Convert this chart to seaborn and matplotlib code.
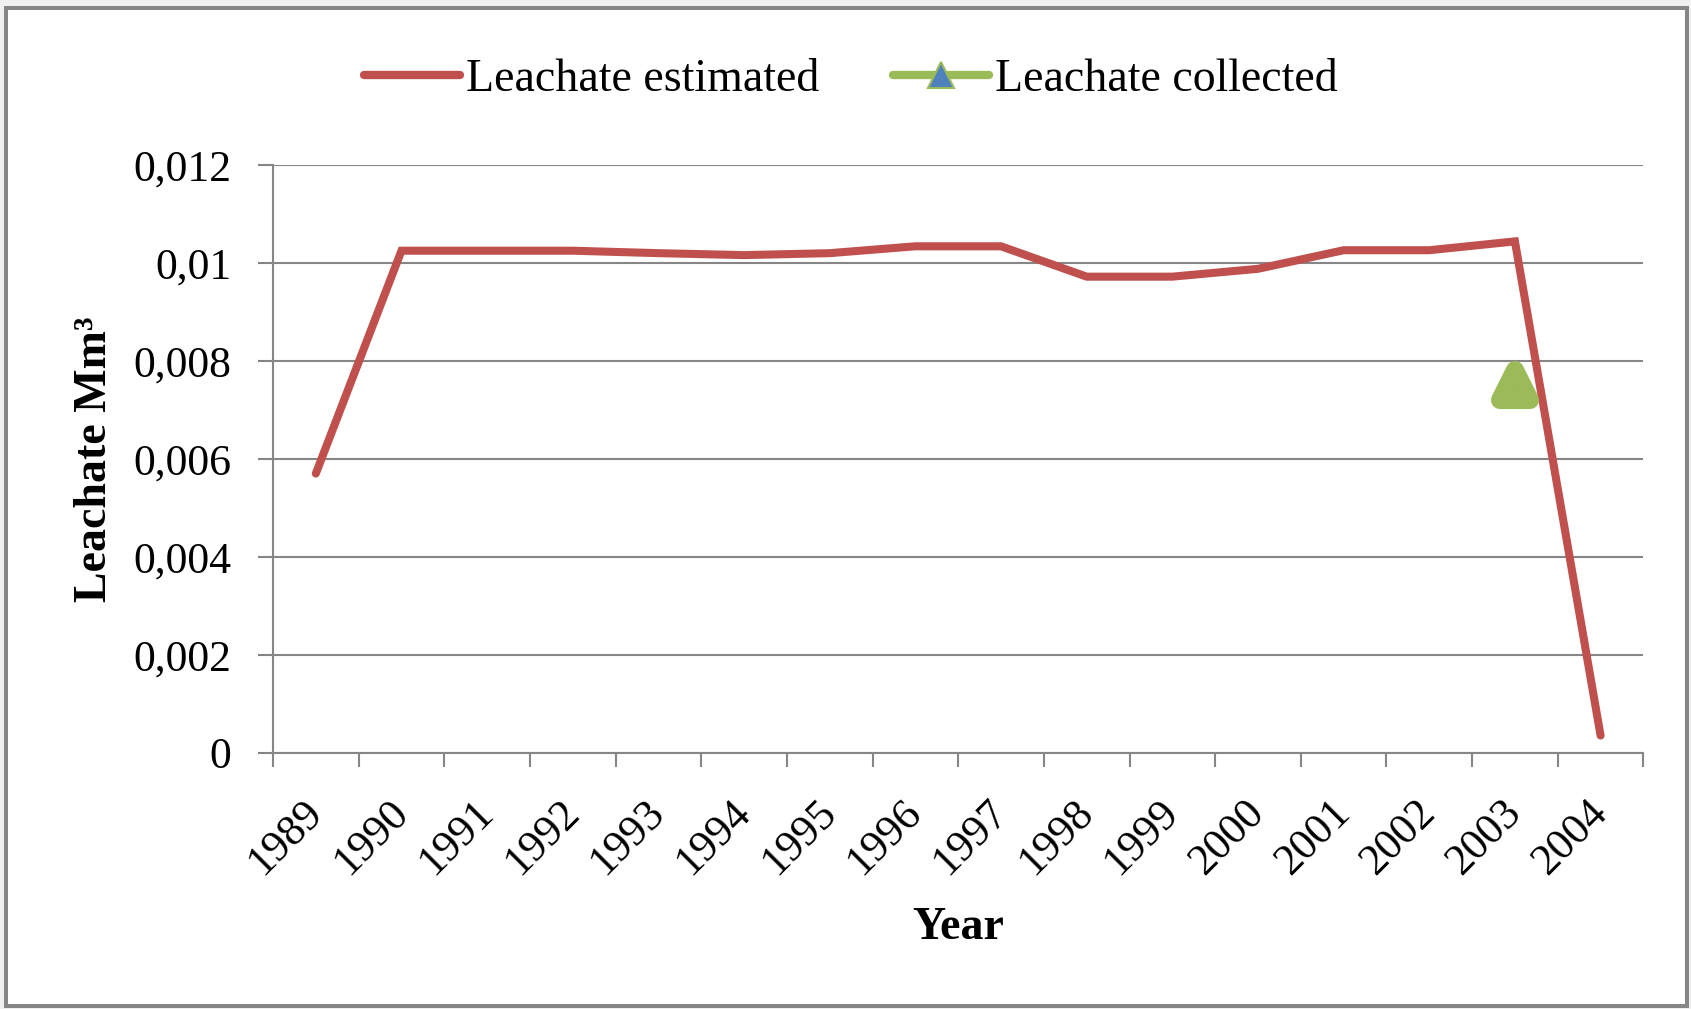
import matplotlib
matplotlib.use("Agg")
import matplotlib.pyplot as plt
from matplotlib.lines import Line2D
from matplotlib.markers import MarkerStyle
from matplotlib.patches import Rectangle
import seaborn as sns
import pandas as pd

# Annual leachate volumes (Mm³)
years = ["1989", "1990", "1991", "1992", "1993", "1994", "1995", "1996",
         "1997", "1998", "1999", "2000", "2001", "2002", "2003", "2004"]
estimated = [0.0057, 0.01025, 0.01025, 0.01025, 0.0102, 0.01016, 0.0102, 0.01034,
             0.01034, 0.00972, 0.00972, 0.00988, 0.01026, 0.01026, 0.01044, 0.00035]
collected_years = ["2003"]
collected = [0.0075]

y_ticks = [0, 0.002, 0.004, 0.006, 0.008, 0.010, 0.012]
y_tick_labels = ["0", "0,002", "0,004", "0,006", "0,008", "0,01", "0,012"]

RED = "#C0504D"
GREEN = "#9BBB59"
BLUE = "#4F81BD"
GRID = "#868686"

sns.set_style("white")
plt.rcParams["font.family"] = ["Liberation Serif", "DejaVu Serif"]
plt.rcParams["text.color"] = "black"

W, H = 1691, 1009
fig = plt.figure(figsize=(W / 100, H / 100), dpi=100)
fig.patch.set_facecolor("#f1f1f1")
frame = Rectangle((6 / W, 1 - 1006 / H), (1687 - 6) / W, (1006 - 8) / H,
                  transform=fig.transFigure, facecolor="white",
                  edgecolor=GRID, linewidth=2.9, zorder=-10)
fig.add_artist(frame)

left, right, top, bottom = 273, 1643.4, 165, 752.7
ax = fig.add_axes([left / W, 1 - bottom / H, (right - left) / W, (bottom - top) / H])
ax.set_facecolor("none")
ax.set_zorder(1)

df_est = pd.DataFrame({"year": years, "value": estimated})
df_col = pd.DataFrame({"year": collected_years, "value": collected})

sns.lineplot(data=df_est, x="year", y="value", ax=ax, color=RED, linewidth=5.8,
             solid_capstyle="round", solid_joinstyle="miter", zorder=3)
sns.lineplot(data=df_col, x="year", y="value", ax=ax, color=GREEN, linewidth=0,
             marker=MarkerStyle("^", joinstyle="round"), markersize=21.5,
             markerfacecolor=BLUE, markeredgecolor=GREEN, markeredgewidth=13, zorder=4)

n = len(years)
ax.set_xlim(-0.5, n - 0.5)
ax.set_ylim(0, 0.012)

# Horizontal gridlines and axis styling
ax.set_yticks(y_ticks)
ax.set_yticklabels(y_tick_labels)
ax.yaxis.grid(True, color=GRID, linewidth=1.5)
ax.xaxis.grid(False)
for s in ["top", "right"]:
    ax.spines[s].set_visible(False)
for s in ["left", "bottom"]:
    ax.spines[s].set_color(GRID)
    ax.spines[s].set_linewidth(1.5)

ax.tick_params(axis="y", which="major", direction="out", length=10.8, width=1.5,
               color=GRID, pad=19, labelsize=31.5, labelcolor="black", left=True)

# Category labels at centres, tick marks at category boundaries
ax.set_xticks(range(n))
ax.set_xticks([i - 0.5 for i in range(n + 1)], minor=True)
ax.tick_params(axis="x", which="major", length=0, pad=39, labelsize=31.5, labelcolor="black")
ax.tick_params(axis="x", which="minor", direction="out", length=10, width=1.5,
               color=GRID, bottom=True)
for lbl in ax.get_xticklabels():
    lbl.set_rotation(45)
    lbl.set_ha("right")
    lbl.set_va("center")
    lbl.set_rotation_mode("anchor")

ax.set_xlabel("Year", fontsize=33, fontweight="bold", va="center", color="black")
ax.xaxis.set_label_coords(0.5, -0.298)
ax.set_ylabel("Leachate Mm³", fontsize=33, fontweight="bold", va="center", color="black")
ax.yaxis.set_label_coords(-0.1296, 0.5)

handles = [
    Line2D([], [], color=RED, linewidth=6, solid_capstyle="round"),
    Line2D([], [], color=GREEN, linewidth=6, solid_capstyle="round",
           marker="^", markersize=19, markerfacecolor=BLUE,
           markeredgecolor=GREEN, markeredgewidth=1.5),
]
fig.legend(handles, ["Leachate estimated", "Leachate collected"],
           loc="center", bbox_to_anchor=(0.503, 1 - 80 / H), ncol=2,
           frameon=False, fontsize=33, handlelength=2.1, handletextpad=0.13,
           columnspacing=1.6, borderpad=0, labelcolor="black")

fig.savefig("out.png", dpi=100, facecolor=fig.get_facecolor())
